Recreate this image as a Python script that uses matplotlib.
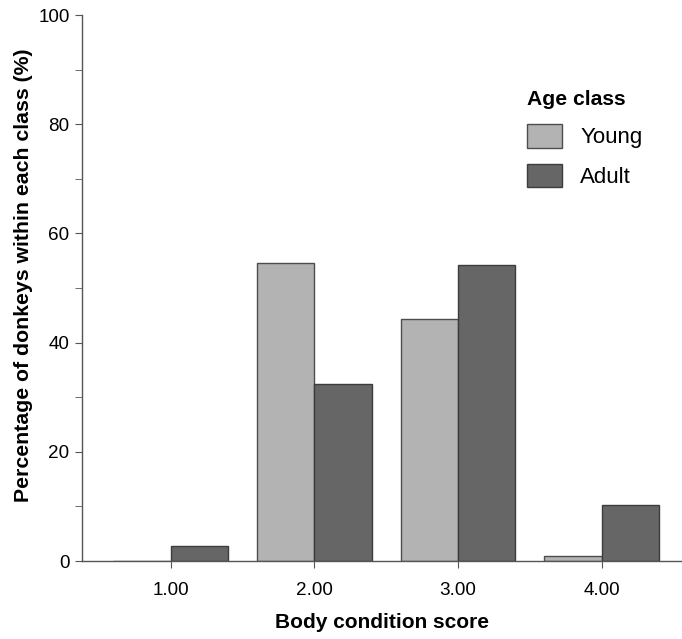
import matplotlib
matplotlib.use("Agg")
import matplotlib.pyplot as plt
import numpy as np

plt.rcParams["font.family"] = ["Liberation Sans", "DejaVu Sans"]

# Body condition score categories and percentages per age class
scores = [1.0, 2.0, 3.0, 4.0]
tick_labels = ["1.00", "2.00", "3.00", "4.00"]
young = [0.0, 54.5, 44.3, 0.9]
adult = [2.7, 32.4, 54.2, 10.2]

fig = plt.figure(figsize=(6.82, 6.39), dpi=100)
ax = fig.add_axes([82 / 682, 1 - 561 / 639, 1 - 82 / 682, (561 - 15) / 639])

x = np.array(scores)
w = 0.4
ax.bar(x - w / 2, young, width=w, color="#b3b3b3", edgecolor="#4d4d4d",
       linewidth=1, label="Young")
ax.bar(x + w / 2, adult, width=w, color="#666666", edgecolor="#3d3d3d",
       linewidth=1, label="Adult")

ax.set_xlim(0.382, 4.56)
ax.set_ylim(0, 100)
ax.set_xticks(scores)
ax.set_xticklabels(tick_labels)
ax.set_yticks(np.arange(0, 101, 20))
ax.set_yticks(np.arange(0, 101, 10), minor=True)

for s in ["top", "right"]:
    ax.spines[s].set_visible(False)
for s in ["left", "bottom"]:
    ax.spines[s].set_color("#555555")
    ax.spines[s].set_linewidth(1)
ax.tick_params(axis="both", which="both", color="#555555", length=5,
               labelsize=13.6, pad=4)
ax.tick_params(axis="x", length=5, pad=10)

ax.set_xlabel("Body condition score", fontsize=15, fontweight="bold", labelpad=10)
ax.set_ylabel("Percentage of donkeys within each class (%)", fontsize=15.3,
              fontweight="bold")
ax.yaxis.set_label_coords(-0.082, 0.524)

leg = ax.legend(title="Age class", loc="upper left",
                bbox_to_anchor=(527 / 682, 1 - 90 / 639),
                bbox_transform=fig.transFigure, frameon=False, fontsize=16,
                handlelength=1.58, handleheight=1.25, labelspacing=0.68,
                handletextpad=0.81, borderpad=0, borderaxespad=0)
leg.get_title().set_fontweight("bold")
leg.get_title().set_fontsize(15.2)
leg._legend_box.align = "left"
leg._legend_box.sep = 11

fig.savefig("out.png", dpi=100)
